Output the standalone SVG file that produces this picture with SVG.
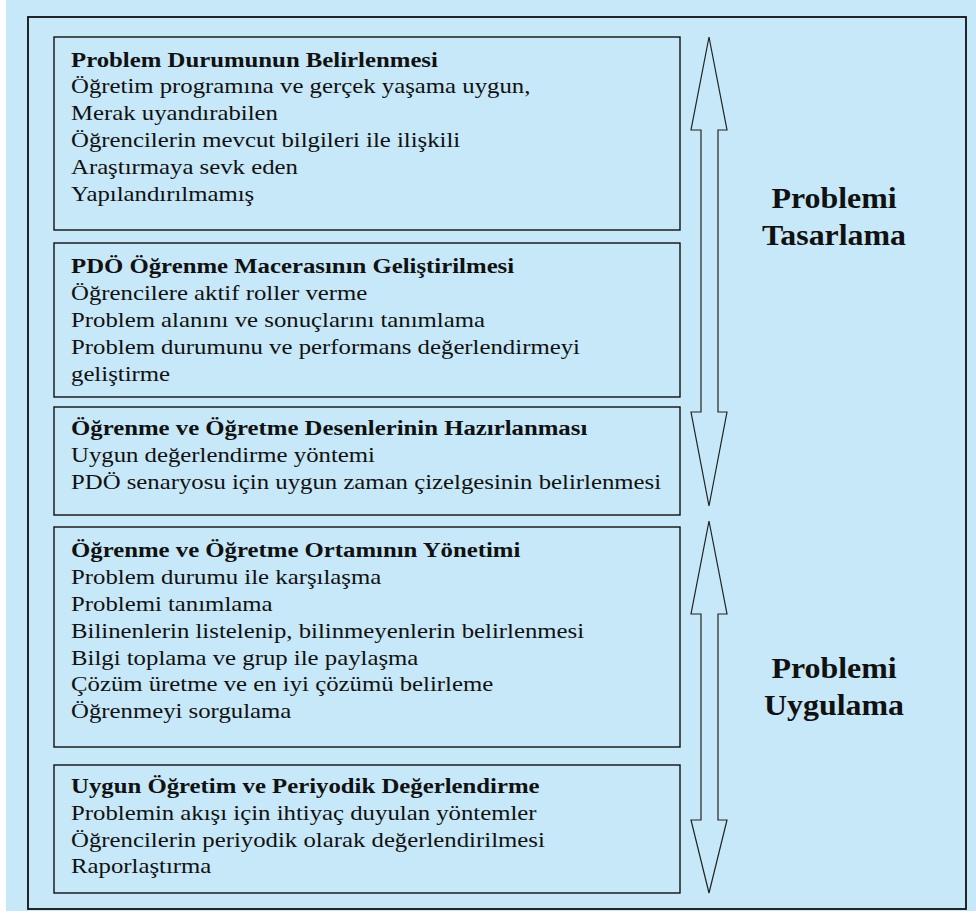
<svg xmlns="http://www.w3.org/2000/svg" width="976" height="914" viewBox="0 0 976 914">
<style>
.bg{fill:#c7e8f8}
.box{fill:none;stroke:#111;stroke-width:1.4}
.outer{fill:none;stroke:#111;stroke-width:1.8}
.arr{fill:none;stroke:#222;stroke-width:1.2;stroke-linejoin:miter}
text{font-family:"Liberation Serif","Times New Roman",serif;fill:#111}
.b{font-size:21px}
.h{font-size:21px;font-weight:bold}
.side{font-size:29px;font-weight:bold;text-anchor:middle}
</style>
<rect x="0" y="0" width="976" height="914" fill="#ffffff"/>
<rect class="bg" x="6" y="0" width="970" height="911"/>
<rect class="outer" x="28" y="17" width="938" height="892"/>

<g id="box1">
<rect class="box" x="54" y="37" width="626" height="193"/>
<g transform="matrix(1.18,0,0,1,71,0)">
<text class="h" y="66.7">Problem Durumunun Belirlenmesi</text>
<text class="b" y="93.5">Öğretim programına ve gerçek yaşama uygun,</text>
<text class="b" y="120.3">Merak uyandırabilen</text>
<text class="b" y="147">Öğrencilerin mevcut bilgileri ile ilişkili</text>
<text class="b" y="173.8">Araştırmaya sevk eden</text>
<text class="b" y="200.6">Yapılandırılmamış</text>
</g>
</g>

<g id="box2">
<rect class="box" x="54" y="243" width="626" height="154"/>
<g transform="matrix(1.18,0,0,1,71,0)">
<text class="h" y="273.5">PDÖ Öğrenme Macerasının Geliştirilmesi</text>
<text class="b" y="300.3">Öğrencilere aktif roller verme</text>
<text class="b" y="327.1">Problem alanını ve sonuçlarını tanımlama</text>
<text class="b" y="353.9">Problem durumunu ve performans değerlendirmeyi</text>
<text class="b" y="380.7">geliştirme</text>
</g>
</g>

<g id="box3">
<rect class="box" x="54" y="407" width="626" height="108"/>
<g transform="matrix(1.18,0,0,1,71,0)">
<text class="h" y="435">Öğrenme ve Öğretme Desenlerinin Hazırlanması</text>
<text class="b" y="461.8">Uygun değerlendirme yöntemi</text>
<text class="b" y="488.6">PDÖ senaryosu için uygun zaman çizelgesinin belirlenmesi</text>
</g>
</g>

<g id="box4">
<rect class="box" x="54" y="527" width="626" height="220"/>
<g transform="matrix(1.18,0,0,1,71,0)">
<text class="h" y="557.5">Öğrenme ve Öğretme Ortamının Yönetimi</text>
<text class="b" y="584.3">Problem durumu ile karşılaşma</text>
<text class="b" y="611.1">Problemi tanımlama</text>
<text class="b" y="637.9">Bilinenlerin listelenip, bilinmeyenlerin belirlenmesi</text>
<text class="b" y="664.7">Bilgi toplama ve grup ile paylaşma</text>
<text class="b" y="691.5">Çözüm üretme ve en iyi çözümü belirleme</text>
<text class="b" y="718.3">Öğrenmeyi sorgulama</text>
</g>
</g>

<g id="box5">
<rect class="box" x="54" y="765" width="626" height="128"/>
<g transform="matrix(1.18,0,0,1,71,0)">
<text class="h" y="793">Uygun Öğretim ve Periyodik Değerlendirme</text>
<text class="b" y="819.8">Problemin akışı için ihtiyaç duyulan yöntemler</text>
<text class="b" y="846.6">Öğrencilerin periyodik olarak değerlendirilmesi</text>
<text class="b" y="873.4">Raporlaştırma</text>
</g>
</g>

<g id="label1" transform="matrix(1.1,0,0,1,834,0)">
<text class="side" y="208">Problemi</text>
<text class="side" y="245">Tasarlama</text>
</g>
<g id="label2" transform="matrix(1.1,0,0,1,834,0)">
<text class="side" y="678">Problemi</text>
<text class="side" y="715">Uygulama</text>
</g>

<g id="connectors">
<path class="arr" d="M709,37 L727,130 L718,130 L718,412 L727,412 L709,506 L691,412 L701,412 L701,130 L691,130 Z"/>
<path class="arr" d="M709,521 L727,614 L718,614 L718,820 L727,820 L709,893 L691,820 L701,820 L701,614 L691,614 Z"/>
</g>
</svg>
